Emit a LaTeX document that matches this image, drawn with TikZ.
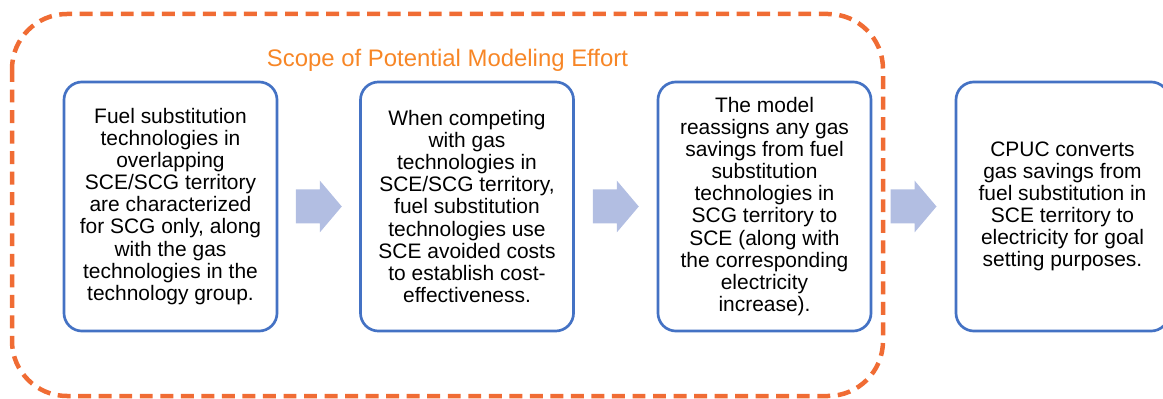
\documentclass[tikz,border=0pt]{standalone}
\usepackage{fontspec}
\setmainfont{Liberation Sans}
\usetikzlibrary{calc}

\definecolor{scopeorange}{RGB}{240,108,52}
\definecolor{titleorange}{RGB}{247,134,38}
\definecolor{boxblue}{RGB}{68,114,196}
\definecolor{arrowblue}{RGB}{178,190,226}

\tikzset{
  stepbox/.style={draw=boxblue,line width=1.9pt,rounded corners=12.8pt,fill=white,
    minimum width=5.325cm,minimum height=6.225cm,align=center,
    font=\fontsize{14.9}{15.7}\selectfont},
  scopeline/.style={draw=scopeorange,line width=3.2pt,rounded corners=1.375cm,
    dash pattern=on 9.2pt off 5.4pt},
  blockarrow/.style={fill=arrowblue}
}

\begin{document}
\begin{tikzpicture}[x=0.025cm,y=-0.025cm]
\useasboundingbox (0,0) rectangle (1163,399);
\draw[scopeline] (12,14) rectangle (883,396);
\node[text=titleorange,font=\fontsize{17}{20}\selectfont] (title) at (447.5,60) {Scope of Potential Modeling Effort};
\node[stepbox] (fs) at (170.5,206.5) {Fuel substitution\\technologies in\\overlapping\\SCE/SCG territory\\are characterized\\for SCG only, along\\with the gas\\technologies in the\\technology group.};
\node[stepbox] (comp) at (467,206.5) {When competing\\with gas\\technologies in\\SCE/SCG territory,\\fuel substitution\\technologies use\\SCE avoided costs\\to establish cost-\\effectiveness.};
\node[stepbox] (model) at (764.5,206.5) {The model\\reassigns any gas\\savings from fuel\\substitution\\technologies in\\SCG territory to\\SCE (along with\\the corresponding\\electricity\\increase).};
\node[stepbox] (cpuc) at (1062.5,206.5) {CPUC converts\\gas savings from\\fuel substitution in\\SCE territory to\\electricity for goal\\setting purposes.};
\foreach \a/\b in {fs/comp,comp/model,model/cpuc}{
  \coordinate (m) at ($(\a.east)!0.5!(\b.west)$);
  \fill[blockarrow] ($(m)+(-23,-17)$) -- ++(24,0) -- ++(0,-9) -- ++(22,26) -- ++(-22,26) -- ++(0,-9) -- ++(-24,0) -- cycle;
}
\end{tikzpicture}
\end{document}
